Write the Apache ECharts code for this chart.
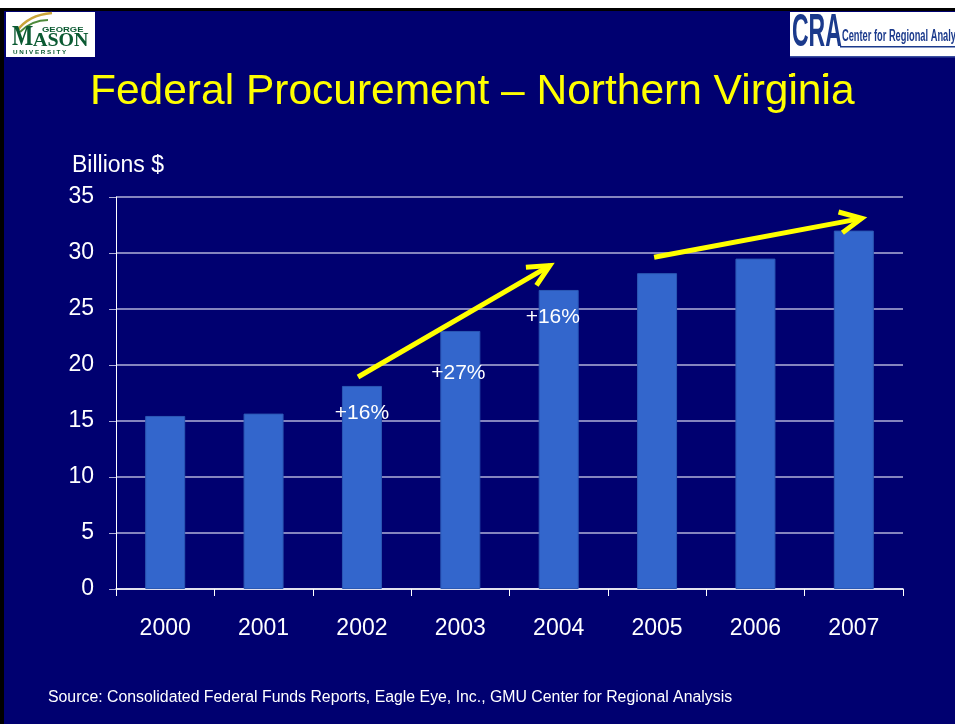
<!DOCTYPE html>
<html>
<head>
<meta charset="utf-8">
<title>Federal Procurement – Northern Virginia</title>
<script src="https://cdn.jsdelivr.net/npm/echarts@6/dist/echarts.min.js"></script>
<style>
html, body { margin: 0; padding: 0; background: #000070; }
#main { width: 955px; height: 724px; }
</style>
</head>
<body>
<div id="main"></div>
<script>
// data
var years = ['2000', '2001', '2002', '2003', '2004', '2005', '2006', '2007'];
var procurement = [15.45, 15.66, 18.13, 23.04, 26.7, 28.2, 29.5, 32.0];
var yMin = 0, yMax = 35, yStep = 5;

// growth notes: [category index, value] + text
var growthText = ['+16%', '+27%', '+16%'];
var growthPos = [[2, 15.7], [2.98, 19.3], [3.94, 24.3]];

// yellow trend arrows, start/end in [category index, value]
var trendArrows = [
	[[1.96, 18.93], [3.91, 28.88]],
	[[4.97, 29.62], [7.08, 33.09]]
];

var NAVY = '#000070';
var FONT = '"Liberation Sans", Arial, sans-serif';
var SERIF = '"Liberation Serif", "Times New Roman", serif';

var chartDom = document.getElementById('main');
var myChart = echarts.init(chartDom, null, { renderer: 'canvas' });

var option = {
	backgroundColor: NAVY,
	animation: false,
	title: {
		text: 'Federal Procurement – Northern Virginia',
		left: 85,
		top: 66,
		textStyle: { color: '#ffff00', fontSize: 42.5, fontWeight: 'normal', fontFamily: FONT }
	},
	grid: { left: 116, right: 52, top: 197, bottom: 135 },
	xAxis: {
		type: 'category',
		data: years,
		axisLine: { lineStyle: { color: '#ffffff', width: 1.5 } },
		axisTick: { show: true, length: 7, lineStyle: { color: '#ffffff' } },
		axisLabel: { color: '#ffffff', fontSize: 23, fontFamily: FONT, margin: 28 }
	},
	yAxis: {
		type: 'value',
		min: yMin,
		max: yMax,
		interval: yStep,
		axisLine: { show: true, lineStyle: { color: '#ffffff', width: 1 } },
		axisTick: { show: true, length: 7, lineStyle: { color: '#b0b0d8' } },
		axisLabel: { color: '#ffffff', fontSize: 23, fontFamily: FONT, margin: 22 },
		splitLine: { show: true, lineStyle: { color: '#b0b0d8', width: 1.5 } }
	},
	series: [
		{
			name: 'Billions $',
			type: 'bar',
			data: procurement,
			barWidth: 40,
			itemStyle: { color: '#3366cc', borderColor: '#2b58b4', borderWidth: 1 }
		}
	]
};
myChart.setOption(option);

// helpers to place notes with the chart's own scales
function xPix(idx) {
	var p0 = myChart.convertToPixel({ xAxisIndex: 0 }, 0);
	var p1 = myChart.convertToPixel({ xAxisIndex: 0 }, 1);
	return p0 + (p1 - p0) * idx;
}
function yPix(v) {
	return myChart.convertToPixel({ yAxisIndex: 0 }, v);
}

var graphics = [];

// slide frame
graphics.push({ type: 'rect', shape: { x: 0, y: 0, width: 955, height: 8 }, style: { fill: '#ffffff' }, z: 100 });
graphics.push({ type: 'rect', shape: { x: 0, y: 8, width: 955, height: 3 }, style: { fill: '#000000' }, z: 100 });
graphics.push({ type: 'rect', shape: { x: 0, y: 8, width: 4, height: 716 }, style: { fill: '#000000' }, z: 100 });

// GMU logo
graphics.push({ type: 'rect', shape: { x: 6, y: 12, width: 89, height: 45 }, style: { fill: '#ffffff' }, z: 100 });
graphics.push({ type: 'bezierCurve', shape: { x1: 17, y1: 31, x2: 52, y2: 13, cpx1: 26, cpy1: 18, cpx2: 40, cpy2: 14 }, style: { stroke: '#c9a43a', lineWidth: 2.5, fill: null }, z: 101 });
graphics.push({ type: 'bezierCurve', shape: { x1: 20, y1: 32, x2: 48, y2: 20, cpx1: 28, cpy1: 24, cpx2: 38, cpy2: 20 }, style: { stroke: '#4d8a3a', lineWidth: 2, fill: null }, z: 101 });
graphics.push({ type: 'text', x: 42, y: 27, style: { text: 'GEORGE', fill: '#0b5a32', font: 'bold 7px ' + FONT }, scaleX: 1.35, z: 101 });
graphics.push({ type: 'text', x: 12, y: 22, style: { text: 'M', fill: '#0b5a32', font: 'bold 30px ' + SERIF }, scaleX: 0.75, z: 101 });
graphics.push({ type: 'text', x: 33, y: 32, style: { text: 'ASON', fill: '#0b5a32', font: 'bold 19px ' + SERIF }, scaleX: 1.05, z: 101 });
graphics.push({ type: 'text', x: 13, y: 50, style: { text: 'U N I V E R S I T Y', fill: '#0b5a32', font: 'bold 5px ' + FONT }, scaleX: 1.25, z: 101 });

// CRA logo
graphics.push({ type: 'rect', shape: { x: 790, y: 12, width: 165, height: 45 }, style: { fill: '#ffffff' }, z: 100 });
graphics.push({ type: 'rect', shape: { x: 790, y: 56, width: 165, height: 1.5 }, style: { fill: '#3a4fa0' }, z: 101 });
graphics.push({ type: 'text', x: 792, y: 10, style: { text: 'CRA', fill: '#1b3a8c', font: 'bold 46px ' + FONT }, scaleX: 0.5, z: 101 });
graphics.push({ type: 'text', x: 842, y: 29, style: { text: 'Center for Regional Analysis', fill: '#1b3a8c', font: 'bold 16px ' + FONT }, scaleX: 0.58, z: 101 });
graphics.push({ type: 'rect', shape: { x: 840, y: 46, width: 115, height: 1.5 }, style: { fill: '#1b3a8c' }, z: 101 });
graphics.push({ type: 'rect', shape: { x: 789, y: 74, width: 4, height: 3 }, style: { fill: '#ffff00' }, z: 101 });
graphics.push({ type: 'rect', shape: { x: 823, y: 74, width: 4, height: 3 }, style: { fill: '#ffff00' }, z: 101 });

// axis unit
graphics.push({ type: 'text', x: 72, y: 154, style: { text: 'Billions $', fill: '#ffffff', font: '23px ' + FONT }, z: 101 });

// source line
graphics.push({ type: 'text', x: 48, y: 690, style: { text: 'Source: Consolidated Federal Funds Reports, Eagle Eye, Inc., GMU Center for Regional Analysis', fill: '#ffffff', font: '16px ' + FONT }, scaleX: 0.99, z: 101 });

// growth labels
growthText.forEach(function (t, i) {
	graphics.push({
		type: 'text',
		x: xPix(growthPos[i][0]),
		y: yPix(growthPos[i][1]),
		style: { text: t, fill: '#ffffff', font: '21px ' + FONT, align: 'center', verticalAlign: 'middle' },
		z: 102
	});
});

// trend arrows
var headLen = 24, headAng = 26 * Math.PI / 180;
trendArrows.forEach(function (a) {
	var x1 = xPix(a[0][0]), y1 = yPix(a[0][1]);
	var x2 = xPix(a[1][0]), y2 = yPix(a[1][1]);
	var ang = Math.atan2(y1 - y2, x1 - x2);
	var h1 = [x2 + headLen * Math.cos(ang + headAng), y2 + headLen * Math.sin(ang + headAng)];
	var h2 = [x2 + headLen * Math.cos(ang - headAng), y2 + headLen * Math.sin(ang - headAng)];
	graphics.push({ type: 'line', shape: { x1: x1, y1: y1, x2: x2, y2: y2 }, style: { stroke: '#ffff00', lineWidth: 5 }, z: 102 });
	graphics.push({ type: 'polyline', shape: { points: [h1, [x2, y2], h2] }, style: { stroke: '#ffff00', lineWidth: 5, fill: null, lineJoin: 'miter' }, z: 102 });
});

myChart.setOption({ graphic: graphics });
window.addEventListener('resize', function () {
	myChart.resize();
});
</script>
</body>
</html>
